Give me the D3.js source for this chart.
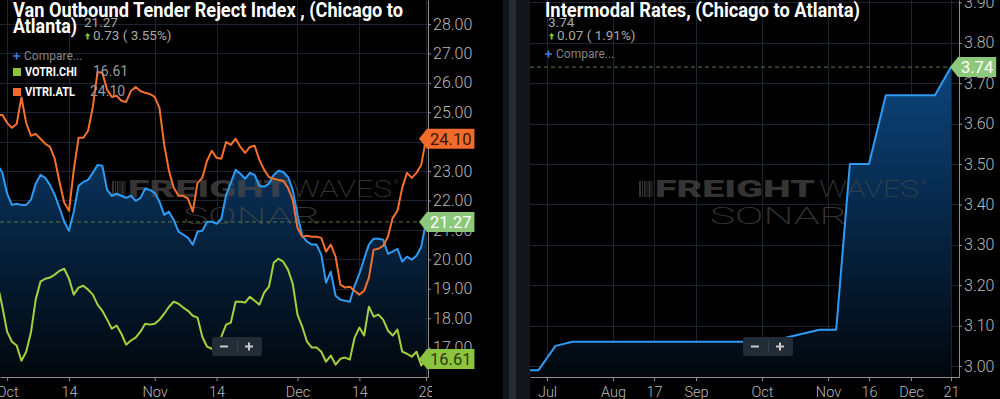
<!DOCTYPE html>
<html>
<head>
<meta charset="utf-8">
<script src="https://cdn.jsdelivr.net/npm/d3@7"></script>
<style>
body{margin:0;background:#000;overflow:hidden}
svg{display:block;font-family:Roboto,"Noto Sans",sans-serif}
</style>
</head>
<body>
<div id="chartDiv"></div>
<script>
//---left panel: daily values, Sep 29 -> Dec 28---
var LeftStart = "2020-09-29"
var VanIndex = [23.21,22.94,22.23,21.85,21.89,21.85,21.85,22.02,22.57,22.87,
 22.77,22.53,22.19,21.75,21.28,20.97,21.62,22.50,22.63,22.70,
 22.94,23.21,23.18,22.36,22.16,22.23,22.16,22.09,22.16,21.99,
 22.09,22.40,22.36,22.26,21.96,21.51,21.62,21.34,20.94,20.84,
 20.73,20.50,20.94,20.97,21.28,21.28,21.21,21.38,22.19,22.60,
 23.04,22.91,22.74,22.94,22.87,22.50,22.47,22.57,22.87,23.01,
 22.97,22.80,22.36,21.51,20.80,20.60,20.50,20.50,20.16,19.21,
 19.58,18.76,18.63,18.59,18.56,19.10,19.51,20.02,20.50,20.70,
 20.70,20.67,20.19,20.26,20.36,19.92,20.09,19.99,20.12,20.43,
 21.27]
var VitriAtl = [24.91,24.91,24.64,24.47,24.60,25.50,24.64,24.20,24.26,24.10,
 23.93,23.82,23.42,22.63,21.92,21.65,23.04,24.13,24.13,24.37,
 25.18,26.37,26.34,25.76,25.52,25.56,25.39,25.35,25.72,25.86,
 25.72,25.66,25.62,25.52,25.15,23.89,23.01,22.43,22.16,22.16,
 22.06,21.62,22.60,22.77,23.35,23.69,23.45,23.42,23.99,23.89,
 24.10,23.82,23.62,23.82,23.86,23.38,23.04,22.80,22.74,22.70,
 22.67,22.43,22.02,21.07,20.77,20.80,20.77,20.77,20.73,20.26,
 20.50,20.09,19.14,19.04,19.07,18.93,18.80,18.93,19.38,20.33,
 20.36,20.46,20.77,21.41,21.65,22.43,22.94,22.77,22.94,23.21,
 24.10]
var VotriChi = [19.14,18.39,17.54,17.20,17.07,16.55,16.86,17.51,18.63,19.24,
 19.34,19.38,19.48,19.61,19.68,19.34,18.80,19.04,19.10,18.97,
 18.80,18.46,18.25,17.95,17.64,17.75,17.47,17.10,17.24,17.34,
 17.54,17.81,17.78,17.81,17.95,18.15,18.39,18.56,18.49,18.36,
 18.25,18.08,18.02,17.37,17.03,16.96,17.07,17.37,17.78,17.85,
 18.56,18.56,18.53,18.73,18.59,18.46,18.87,19.07,19.88,20.02,
 19.92,19.65,19.17,18.12,17.71,17.20,17.00,17.00,16.86,16.52,
 16.73,16.42,16.62,16.66,16.59,17.34,17.68,17.41,18.39,18.05,
 18.12,17.95,17.58,17.41,17.61,16.86,16.79,16.69,16.86,16.39,
 16.61]
var LeftTickDates = ["2020-10-01","2020-10-14","2020-11-01","2020-11-14","2020-12-01","2020-12-14","2020-12-28"]
var LeftYTicks = [17,18,19,20,21,22,23,24,25,26,27,28]

//---right panel: intermodal rate change points---
var RateDates = ["2020-06-23","2020-06-27","2020-07-05","2020-07-13","2020-09-25","2020-10-12","2020-10-28","2020-11-04","2020-11-09","2020-11-16","2020-11-22","2020-12-13","2020-12-21"]
var RateValues = [2.99,2.99,3.05,3.06,3.06,3.07,3.09,3.09,3.50,3.50,3.67,3.67,3.74]
var RightTickDates = ["2020-07-01","2020-08-01","2020-08-17","2020-09-01","2020-10-01","2020-11-01","2020-11-16","2020-12-01","2020-12-21"]
var RightYTicks = [3.0,3.1,3.2,3.3,3.4,3.5,3.6,3.7,3.8,3.9]

var parseDay = d3.timeParse("%Y-%m-%d")
var PlotBottom = 377
var GridColor = "#1a2531"
var AxisColor = "#8e8e8e"
var LabelColor = "#b9b9b9"

var ChartSVG = d3.select("#chartDiv").append("svg")
 .attr("width",1000).attr("height",399)

var defs = ChartSVG.append("defs")
//---one fade for both panels, fixed to the plot height---
var grad = defs.append("linearGradient").attr("id","areaFade")
 .attr("gradientUnits","userSpaceOnUse")
 .attr("x1",0).attr("y1",40).attr("x2",0).attr("y2",PlotBottom)
grad.append("stop").attr("offset","0%").attr("stop-color","#0c4a86")
grad.append("stop").attr("offset","100%").attr("stop-color","#02070d")

defs.append("clipPath").attr("id","clipLeft").append("rect")
 .attr("x",0).attr("y",0).attr("width",428).attr("height",PlotBottom)
defs.append("clipPath").attr("id","clipRight").append("rect")
 .attr("x",530).attr("y",0).attr("width",429).attr("height",PlotBottom)
defs.append("clipPath").attr("id","clipLeftAxis").append("rect")
 .attr("x",-10).attr("y",0).attr("width",442).attr("height",30)

ChartSVG.append("rect").attr("width",1000).attr("height",399).attr("fill","#000")

//---panel divider---
ChartSVG.append("rect").attr("x",503).attr("y",0).attr("width",27).attr("height",399).attr("fill","#121519")
ChartSVG.append("rect").attr("x",509).attr("y",0).attr("width",7).attr("height",399).attr("fill","#262b31")

//---scales---
var LeftX = d3.scaleTime()
 .domain([new Date(2020,8,29,12), new Date(2020,11,28,10)])
 .range([0,428])
var LeftY = d3.scaleLinear().domain([16,28.815]).range([PlotBottom,0])

//---right x axis is not even in time, so map it piecewise at its tick dates---
var RightX = d3.scaleTime()
 .domain([parseDay("2020-06-23")].concat(RightTickDates.map(parseDay),[parseDay("2020-12-25")]))
 .range([530,547,613,654,696,762,828,869,911,951,959])
var RightY = d3.scaleLinear().domain([2.973,3.906]).range([PlotBottom,0])

function gridLines(g, xs, ys, x0, x1)
{
 g.selectAll(".hg").data(ys).enter().append("line")
  .attr("x1",x0).attr("x2",x1)
  .attr("y1",function(d){return Math.round(d)+0.5}).attr("y2",function(d){return Math.round(d)+0.5})
  .attr("stroke",GridColor).attr("stroke-width",1)
 g.selectAll(".vg").data(xs).enter().append("line")
  .attr("y1",0).attr("y2",PlotBottom)
  .attr("x1",function(d){return Math.round(d)+0.5}).attr("x2",function(d){return Math.round(d)+0.5})
  .attr("stroke",GridColor).attr("stroke-width",1)
}

function watermark(g, dx)
{
 var wm = g.append("g").attr("transform","translate("+dx+",0)").attr("fill","#4a4a4a").attr("opacity",0.7)
 var bars = [[112,2],[115,1],[117,1.5],[119.5,1],[121.5,2],[124.5,1]]
 bars.forEach(function(b){
  wm.append("rect").attr("x",b[0]).attr("y",181).attr("width",b[1]).attr("height",16)
 })
 wm.append("text").attr("x",128).attr("y",197).attr("font-size",24).attr("font-weight",900)
  .attr("textLength",160).attr("lengthAdjust","spacingAndGlyphs").text("FREIGHT")
 wm.append("text").attr("x",292).attr("y",197).attr("font-size",24).attr("font-weight",200)
  .attr("textLength",100).attr("lengthAdjust","spacingAndGlyphs").text("WAVES")
 wm.append("text").attr("x",394).attr("y",184).attr("font-size",6).text("®")
 wm.append("text").attr("x",183).attr("y",224).attr("font-size",23).attr("font-weight",200)
  .attr("textLength",137).attr("lengthAdjust","spacingAndGlyphs").text("SONAR")
}

function valueTag(g, axisX, yPos, label, fill, txtColor)
{
 var tg = g.append("g")
 var t = tg.append("text").attr("x",axisX+2).attr("y",yPos).attr("dy","0.36em")
  .attr("font-size",16.5).attr("fill",txtColor).text(label)
 var w = t.node().getComputedTextLength()+5
 tg.insert("path","text")
  .attr("d","M"+(axisX-9)+","+yPos+"L"+(axisX-1)+","+(yPos-10)+"H"+(axisX+w)+"V"+(yPos+10)+"H"+(axisX-1)+"Z")
  .attr("fill",fill)
}

function zoomButtons(g, x, y)
{
 g.append("rect").attr("x",x).attr("y",y).attr("width",50).attr("height",19).attr("rx",3).attr("fill","#222c36")
 g.append("line").attr("x1",x+25.5).attr("x2",x+25.5).attr("y1",y+3).attr("y2",y+16).attr("stroke","#34404c")
 g.append("line").attr("x1",x+8).attr("x2",x+16).attr("y1",y+9.5).attr("y2",y+9.5).attr("stroke","#c8c8c8").attr("stroke-width",2)
 g.append("line").attr("x1",x+33).attr("x2",x+41).attr("y1",y+9.5).attr("y2",y+9.5).attr("stroke","#c8c8c8").attr("stroke-width",2)
 g.append("line").attr("x1",x+37).attr("x2",x+37).attr("y1",y+5.5).attr("y2",y+13.5).attr("stroke","#c8c8c8").attr("stroke-width",2)
}

function upArrow(g, x, y)
{
 g.append("path").attr("d","M"+x+","+(y+3)+"l2.6,-3.2l2.6,3.2h-1.6v3.4h-2v-3.4z").attr("fill","#7cc242")
}

function compareLink(g, x, y)
{
 g.append("path").attr("d","M"+x+","+(y-4)+"h7M"+(x+3.5)+","+(y-7.5)+"v7").attr("stroke","#3a7de8").attr("stroke-width",1.6)
 g.append("text").attr("x",x+11).attr("y",y).attr("font-size",12).attr("fill","#868686").text("Compare...")
}

function styleAxis(ax, size)
{
 ax.select(".domain").attr("stroke",AxisColor)
 ax.selectAll(".tick line").attr("stroke",AxisColor)
 ax.selectAll(".tick text").attr("fill",LabelColor).attr("font-size",size).attr("font-weight",300)
  .attr("font-family","Roboto")
}

//================ LEFT PANEL ================
var LeftG = ChartSVG.append("g").attr("id","leftPanel")
var day0 = parseDay(LeftStart)
var leftDates = VanIndex.map(function(v,i){return d3.timeDay.offset(day0,i)})

gridLines(LeftG, LeftTickDates.map(function(d){return LeftX(parseDay(d))}), LeftYTicks.map(LeftY), 0, 428)

var LeftPlot = LeftG.append("g").attr("clip-path","url(#clipLeft)")
var leftArea = d3.area()
 .x(function(d,i){return LeftX(leftDates[i])})
 .y0(PlotBottom)
 .y1(function(d){return LeftY(d)})
LeftPlot.append("path").datum(VanIndex).attr("d",leftArea).attr("fill","url(#areaFade)")

watermark(LeftPlot, 0)

LeftPlot.append("line").attr("x1",0).attr("x2",428)
 .attr("y1",LeftY(VanIndex[VanIndex.length-1])).attr("y2",LeftY(VanIndex[VanIndex.length-1]))
 .attr("stroke","#557a40").attr("stroke-dasharray","4,3")

var leftLine = d3.line()
 .x(function(d,i){return LeftX(leftDates[i])})
 .y(function(d){return LeftY(d)})
LeftPlot.append("path").datum(VanIndex).attr("d",leftLine).attr("fill","none").attr("stroke","#2e9bf6").attr("stroke-width",2).attr("stroke-linejoin","round")
LeftPlot.append("path").datum(VotriChi).attr("d",leftLine).attr("fill","none").attr("stroke","#a2d33c").attr("stroke-width",2).attr("stroke-linejoin","round")
LeftPlot.append("path").datum(VitriAtl).attr("d",leftLine).attr("fill","none").attr("stroke","#f4702e").attr("stroke-width",2).attr("stroke-linejoin","round")

//---axes---
var lyAxis = LeftG.append("g").attr("transform","translate(428,0)")
 .call(d3.axisRight(LeftY).tickValues(LeftYTicks).tickFormat(d3.format(".2f")).tickSize(3).tickPadding(2).tickSizeOuter(0))
styleAxis(lyAxis, 16)
var fmtLeft = function(d){return d.getDate()==1 ? d3.timeFormat("%b")(d) : d3.timeFormat("%-d")(d)}
var lxAxis = LeftG.append("g").attr("transform","translate(0,"+PlotBottom+")")
 .attr("clip-path","url(#clipLeftAxis)")
 .call(d3.axisBottom(LeftX).tickValues(LeftTickDates.map(parseDay)).tickFormat(fmtLeft).tickSize(4).tickPadding(6).tickSizeOuter(0))
styleAxis(lxAxis, 14.5)

valueTag(LeftG, 428, LeftY(VitriAtl[VitriAtl.length-1]), d3.format(".2f")(VitriAtl[VitriAtl.length-1]), "#f26b2b", "#3a1607")
valueTag(LeftG, 428, LeftY(VanIndex[VanIndex.length-1]), d3.format(".2f")(VanIndex[VanIndex.length-1]), "#8cc77a", "#ffffff")
valueTag(LeftG, 428, LeftY(VotriChi[VotriChi.length-1]), d3.format(".2f")(VotriChi[VotriChi.length-1]), "#8cc43f", "#2b3a10")

//---title + legend---
LeftG.append("text").attr("x",13).attr("y",17).attr("font-size",20).attr("font-weight",700).attr("fill","#fff")
 .attr("textLength",390).attr("lengthAdjust","spacingAndGlyphs").text("Van Outbound Tender Reject Index , (Chicago to")
LeftG.append("text").attr("x",13).attr("y",33).attr("font-size",20).attr("font-weight",700).attr("fill","#fff")
 .attr("textLength",64).attr("lengthAdjust","spacingAndGlyphs").text("Atlanta)")
LeftG.append("text").attr("x",84).attr("y",27).attr("font-size",13.5).attr("fill","#a8a8a8").text("21.27")
upArrow(LeftG, 85, 33)
LeftG.append("text").attr("x",93).attr("y",40).attr("font-size",13.5).attr("fill","#a8a8a8").text("0.73 ( 3.55%)")
compareLink(LeftG, 13, 60)

LeftG.append("rect").attr("x",13).attr("y",68).attr("width",8).attr("height",8).attr("fill","#8cc43f")
LeftG.append("text").attr("x",25).attr("y",76).attr("font-size",12.5).attr("font-weight",700).attr("fill","#fff")
 .attr("textLength",52).attr("lengthAdjust","spacingAndGlyphs").text("VOTRI.CHI")
LeftG.append("text").attr("x",93).attr("y",76).attr("font-size",14).attr("fill","#9a9a9a").text("16.61")
LeftG.append("rect").attr("x",13).attr("y",88).attr("width",8).attr("height",8).attr("fill","#f26b2b")
LeftG.append("text").attr("x",25).attr("y",96).attr("font-size",12.5).attr("font-weight",700).attr("fill","#fff")
 .attr("textLength",50).attr("lengthAdjust","spacingAndGlyphs").text("VITRI.ATL")
LeftG.append("text").attr("x",90).attr("y",96).attr("font-size",14).attr("fill","#9a9a9a").text("24.10")

zoomButtons(LeftG, 212, 337)

//================ RIGHT PANEL ================
var RightG = ChartSVG.append("g").attr("id","rightPanel")
var rateDates = RateDates.map(parseDay)

gridLines(RightG, RightTickDates.map(function(d){return RightX(parseDay(d))}), RightYTicks.map(RightY), 530, 959)

var RightPlot = RightG.append("g").attr("clip-path","url(#clipRight)")
var rightArea = d3.area()
 .x(function(d,i){return RightX(rateDates[i])})
 .y0(PlotBottom)
 .y1(function(d){return RightY(d)})
RightPlot.append("path").datum(RateValues).attr("d",rightArea).attr("fill","url(#areaFade)")

watermark(RightPlot, 527)

RightPlot.append("line").attr("x1",530).attr("x2",959)
 .attr("y1",RightY(RateValues[RateValues.length-1])).attr("y2",RightY(RateValues[RateValues.length-1]))
 .attr("stroke","#557a40").attr("stroke-dasharray","4,3")

var rightLine = d3.line()
 .x(function(d,i){return RightX(rateDates[i])})
 .y(function(d){return RightY(d)})
RightPlot.append("path").datum(RateValues).attr("d",rightLine).attr("fill","none").attr("stroke","#2e9bf6").attr("stroke-width",2).attr("stroke-linejoin","round")

var ryAxis = RightG.append("g").attr("transform","translate(959,0)")
 .call(d3.axisRight(RightY).tickValues(RightYTicks).tickFormat(d3.format(".2f")).tickSize(3).tickPadding(2).tickSizeOuter(0))
styleAxis(ryAxis, 16)
var rxAxis = RightG.append("g").attr("transform","translate(0,"+PlotBottom+")")
 .call(d3.axisBottom(RightX).tickValues(RightTickDates.map(parseDay)).tickFormat(fmtLeft).tickSize(4).tickPadding(6).tickSizeOuter(0))
styleAxis(rxAxis, 14.5)

valueTag(RightG, 959, RightY(RateValues[RateValues.length-1]), d3.format(".2f")(RateValues[RateValues.length-1]), "#8cc77a", "#ffffff")

RightG.append("text").attr("x",545).attr("y",17).attr("font-size",20).attr("font-weight",700).attr("fill","#fff")
 .attr("textLength",315).attr("lengthAdjust","spacingAndGlyphs").text("Intermodal Rates, (Chicago to Atlanta)")
RightG.append("text").attr("x",548).attr("y",27).attr("font-size",13.5).attr("fill","#a8a8a8").text("3.74")
upArrow(RightG, 549, 33)
RightG.append("text").attr("x",557).attr("y",40).attr("font-size",13.5).attr("fill","#a8a8a8").text("0.07 ( 1.91%)")
compareLink(RightG, 545, 58)

zoomButtons(RightG, 743, 337)
</script>
</body>
</html>
